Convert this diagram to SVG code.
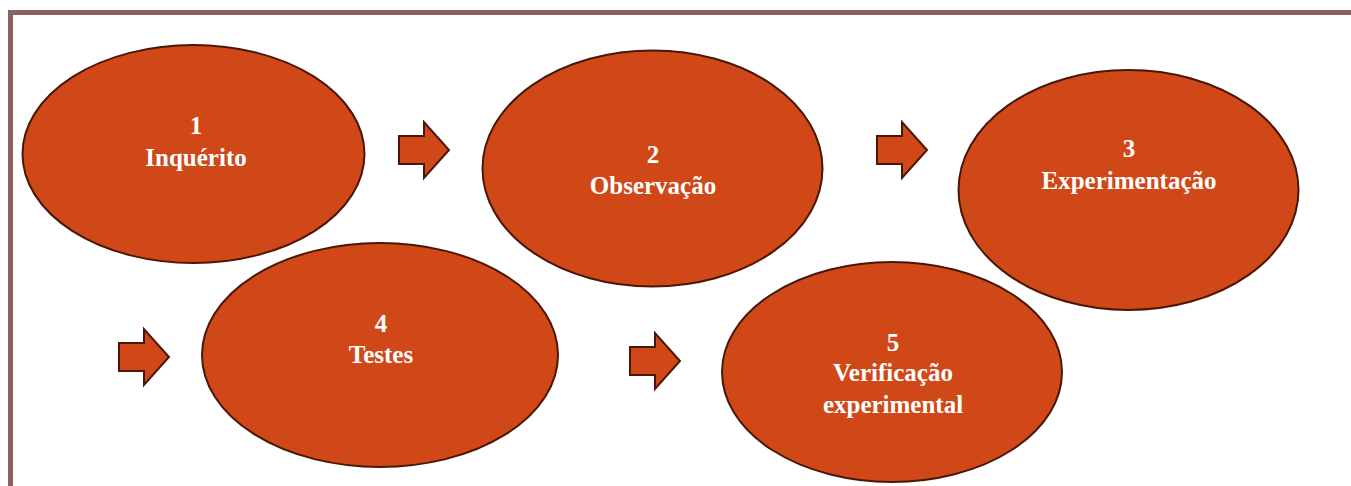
<svg xmlns="http://www.w3.org/2000/svg" width="1351" height="486" viewBox="0 0 1351 486">
<style>
.node ellipse{fill:#D04818;stroke:#4A1606;stroke-width:2}
.node text{font-family:"Liberation Serif",serif;font-weight:bold;font-size:25px;fill:#FFFFFF;text-anchor:middle}
.arrow{fill:#D04818;stroke:#4A1606;stroke-width:2;stroke-linejoin:miter}
</style>
<defs>
<path id="blk" d="M0,14 H25 V0 L50,28 L25,56 V42 H0 Z"/>
</defs>
<rect width="1351" height="486" fill="#FFFFFF"/>
<path d="M10.5,486 V12.5 H1351" fill="none" stroke="#8B6262" stroke-width="5"/>
<g id="connectors">
<use href="#blk" class="arrow" transform="translate(399,122)"/>
<use href="#blk" class="arrow" transform="translate(877,122)"/>
<use href="#blk" class="arrow" transform="translate(119,329)"/>
<use href="#blk" class="arrow" transform="translate(630,333)"/>
</g>
<g id="n1" class="node">
<ellipse cx="193.5" cy="154" rx="171" ry="109"/>
<text x="196" y="134">1</text>
<text x="196" y="166">Inquérito</text>
</g>
<g id="n2" class="node">
<ellipse cx="652.5" cy="168.5" rx="170" ry="118"/>
<text x="653" y="163">2</text>
<text x="653" y="194">Observação</text>
</g>
<g id="n3" class="node">
<ellipse cx="1128.5" cy="190" rx="170" ry="120"/>
<text x="1129" y="157">3</text>
<text x="1129" y="189">Experimentação</text>
</g>
<g id="n4" class="node">
<ellipse cx="380" cy="355" rx="178" ry="112"/>
<text x="381" y="332">4</text>
<text x="381" y="363">Testes</text>
</g>
<g id="n5" class="node">
<ellipse cx="892" cy="372" rx="170" ry="110"/>
<text x="893" y="351">5</text>
<text x="893" y="381">Verificação</text>
<text x="893" y="413">experimental</text>
</g>
</svg>
